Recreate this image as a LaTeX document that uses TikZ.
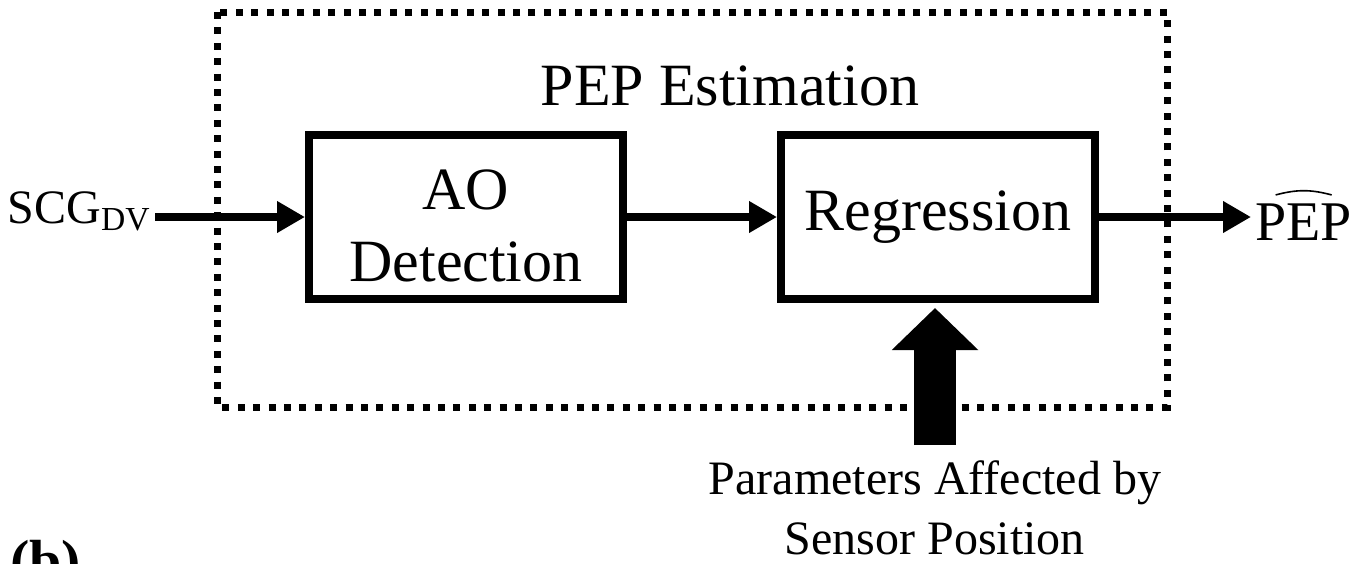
\documentclass[tikz,border=0pt]{standalone}
\usepackage{fontspec}
\setmainfont{Liberation Serif}
\usetikzlibrary{arrows.meta}
\begin{document}
\begin{tikzpicture}[x=0.5pt,y=-0.5pt,
  block/.style={draw,line width=4pt,minimum width=157pt,minimum height=82pt,align=center,font=\fontsize{30}{36}\selectfont},
  flow/.style={line width=4pt,-{Triangle[length=14pt,width=15pt]}},
  frame/.style={line width=3.5pt,dash pattern=on 3.5pt off 4.2pt},
  big/.style={inner sep=2pt,font=\fontsize{30}{36}\selectfont},
  small/.style={inner sep=2pt,font=\fontsize{24}{30}\selectfont}]
\useasboundingbox (0,0) rectangle (1370,563);
\clip (0,0) rectangle (1370,563);

% estimation block (dotted frame)
\draw[frame] (217,12) rectangle (1167,407);
\node[big] (title) at (730,86) {PEP Estimation};

\node[block] (ao) at (466,217) {\rule{0pt}{29pt}AO\\Detection};
\node[block] (reg) at (938,217) {Regression};

% inputs and output
\node[small,anchor=base east] (scg) at (155,223) {SCG\textsubscript{DV}};
\node[big,font=\fontsize{28}{34}\selectfont,anchor=base west] (pep) at (1251,240) {PEP};
\draw[line width=0.8pt] ([xshift=-14pt,yshift=2pt]pep.north) to[bend left=15] ([xshift=14pt,yshift=2pt]pep.north);
\node[small,align=center,anchor=north,inner sep=0pt] (par) at (935,460) {Parameters Affected by\\Sensor Position};

\draw[flow] (scg.east |- ao.west) -- (ao.west);
\draw[flow] (ao) -- (reg);
\draw[flow] (reg.east) -- (pep.west |- reg.east);
% fat arrow from the parameters
\draw[line width=21pt,-{Triangle[length=21pt,width=42pt]},shorten <=7.5pt,shorten >=2.5pt] (par.north) -- (par.north |- reg.south);

\node[font=\fontsize{29}{35}\selectfont\bfseries,anchor=base west,inner sep=0pt] (tag) at (10,580) {(b)};
\end{tikzpicture}
\end{document}
